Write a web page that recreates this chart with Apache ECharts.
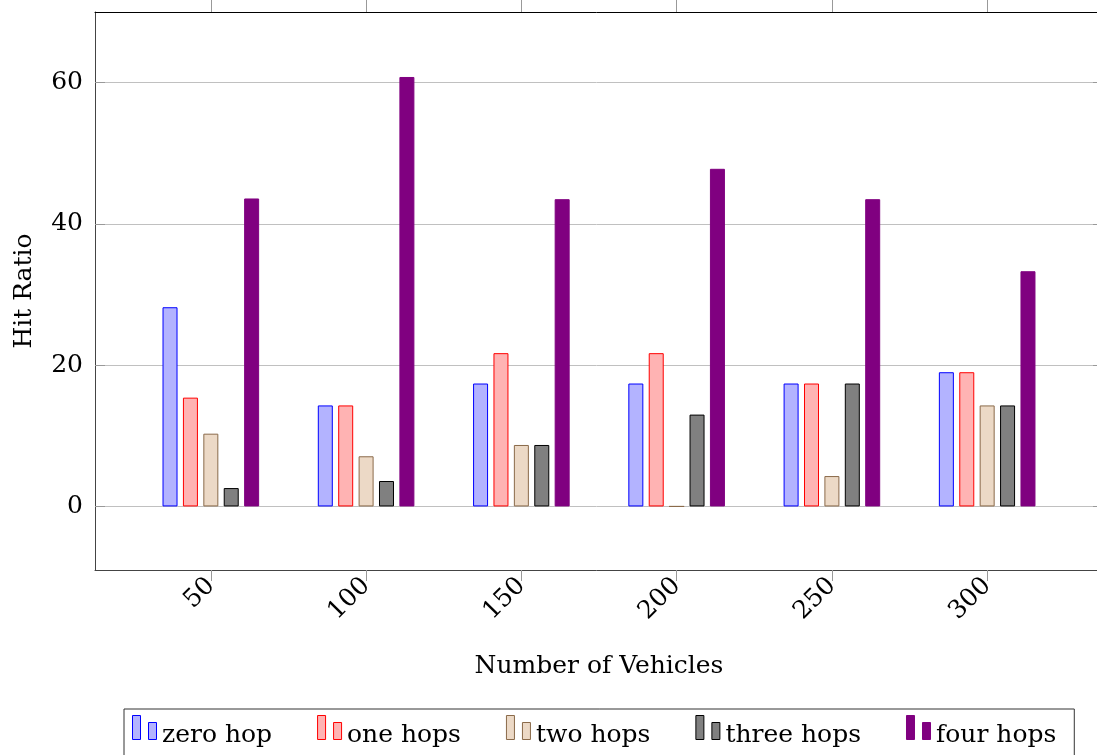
<!DOCTYPE html>
<html>
<head>
<meta charset="utf-8">
<script src="https://cdn.jsdelivr.net/npm/echarts@6/dist/echarts.min.js"></script>
<style>
  html, body { margin: 0; padding: 0; background: #ffffff; }
  #chart { width: 1097px; height: 755px; }
</style>
</head>
<body>
<div id="chart"></div>
<script>
// Hit ratio per number of vehicles, grouped by hop distance
const vehicles  = [50, 100, 150, 200, 250, 300];
const zeroHop   = [28.2, 14.3, 17.4, 17.4, 17.4, 19.0];
const oneHops   = [15.4, 14.3, 21.7, 21.7, 17.4, 19.0];
const twoHops   = [10.3, 7.1, 8.7, 0, 4.3, 14.3];
const threeHops = [2.6, 3.6, 8.7, 13.0, 17.4, 14.3];
const fourHops  = [43.6, 60.8, 43.5, 47.8, 43.5, 33.3];
const yTickValues = [0, 20, 40, 60];
const seriesNames = ['zero hop', 'one hops', 'two hops', 'three hops', 'four hops'];

const FONT = "'DejaVu Serif', serif";
const FS = 25;

const styles = [
  { fill: '#b3b3ff', stroke: '#0000ff' },
  { fill: '#ffb3b3', stroke: '#ff0000' },
  { fill: '#ecd9c6', stroke: '#8a6a4a' },
  { fill: '#808080', stroke: '#000000' },
  { fill: '#800080', stroke: '#800080' }
];
const values = [zeroHop, oneHops, twoHops, threeHops, fourHops];

// legend glyph: a tall bar next to a shorter one
const legendIcon = 'path://M0,0H8V24H0Z M16,7H24V24H16Z';

const series = seriesNames.map((name, i) => ({
  name: name,
  type: 'bar',
  xAxisIndex: 0,
  yAxisIndex: 0,
  barWidth: 15,
  barGap: '36%',
  itemStyle: { color: styles[i].fill, borderColor: styles[i].stroke, borderWidth: 1 },
  emphasis: { disabled: true },
  data: vehicles.map((v, j) => [v, values[i][j]])
}));

const chart = echarts.init(document.getElementById('chart'), null, { renderer: 'canvas' });
chart.setOption({
  animation: false,
  textStyle: { fontFamily: FONT, color: '#000' },
  // the plot box runs slightly past the right edge of the canvas
  grid: { left: 95, width: 1008, top: 12, height: 558, containLabel: false, outerBoundsMode: 'none' },
  legend: {
    data: seriesNames.map((n, i) => ({
      name: n,
      icon: legendIcon,
      itemStyle: { color: styles[i].fill, borderColor: styles[i].stroke, borderWidth: 1 }
    })),
    left: 124,
    top: 709,
    orient: 'horizontal',
    itemWidth: 25,
    itemHeight: 24,
    itemGap: 45,
    padding: [6, 18, 14, 8],
    borderColor: '#333',
    borderWidth: 1,
    borderRadius: 0,
    selectedMode: false,
    formatter: name => '{t|' + name + '}',
    textStyle: {
      fontFamily: FONT, fontSize: FS, color: '#000',
      rich: { t: { fontFamily: FONT, fontSize: FS, color: '#000', padding: [16, 0, 0, 0] } }
    }
  },
  xAxis: [
    {
      type: 'value',
      position: 'bottom',
      min: 12.7,
      max: 337.3,
      name: 'Number of Vehicles',
      nameLocation: 'middle',
      nameGap: 84,
      nameTextStyle: { fontFamily: FONT, fontSize: FS, color: '#000' },
      axisLine: { show: true, onZero: false, lineStyle: { color: '#444', width: 1 } },
      axisTick: { show: true, inside: false, length: 11, customValues: vehicles, lineStyle: { color: '#999' } },
      axisLabel: { customValues: vehicles, rotate: 45, margin: 12, fontFamily: FONT, fontSize: FS, color: '#000' },
      splitLine: { show: false }
    },
    {
      type: 'value',
      position: 'top',
      min: 12.7,
      max: 337.3,
      axisLine: { show: true, onZero: false, lineStyle: { color: '#000', width: 1 } },
      axisTick: { show: true, inside: false, length: 12, customValues: vehicles, lineStyle: { color: '#999' } },
      axisLabel: { show: false },
      splitLine: { show: false }
    }
  ],
  yAxis: [
    {
      type: 'value',
      position: 'left',
      min: -9,
      max: 70,
      name: 'Hit Ratio',
      nameLocation: 'middle',
      nameGap: 58,
      nameRotate: 90,
      nameTextStyle: { fontFamily: FONT, fontSize: FS, color: '#000' },
      axisLine: { show: true, onZero: false, lineStyle: { color: '#444', width: 1 } },
      axisTick: { show: true, inside: true, length: 10, customValues: yTickValues, lineStyle: { color: '#999' } },
      axisLabel: { customValues: yTickValues, margin: 12, fontFamily: FONT, fontSize: FS, color: '#000' },
      splitLine: { show: true, lineStyle: { color: '#c0c0c0', width: 1 } }
    },
    {
      type: 'value',
      position: 'right',
      min: -9,
      max: 70,
      axisLine: { show: false, onZero: false, lineStyle: { color: '#000', width: 1 } },
      axisTick: { show: true, inside: true, length: 10, customValues: yTickValues, lineStyle: { color: '#999' } },
      axisLabel: { show: false },
      splitLine: { show: false }
    }
  ],
  series: series
});
</script>
</body>
</html>
